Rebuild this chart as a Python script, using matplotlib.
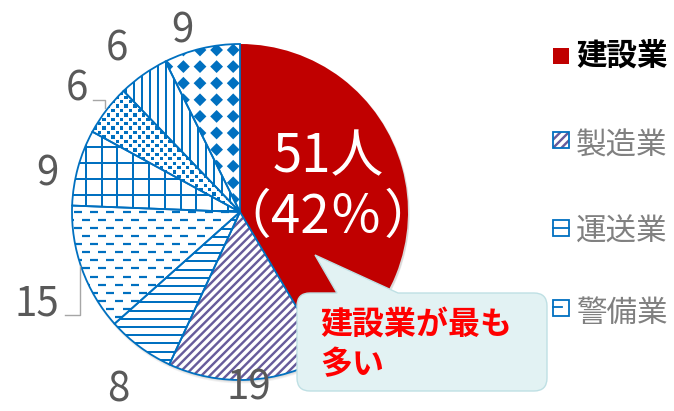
import numpy as np
import matplotlib
matplotlib.use('Agg')
import matplotlib.pyplot as plt
from matplotlib.patches import Wedge, Rectangle, PathPatch, Circle
from matplotlib.path import Path
from matplotlib.collections import LineCollection, PolyCollection

plt.rcParams['font.family'] = ['Noto Sans CJK JP', 'DejaVu Sans']

# ---------------- data ----------------
categories = ['建設業', '製造業', '運送業', '警備業', '業種5', '業種6', '業種7', '業種8']
values = [51, 19, 8, 15, 9, 6, 6, 9]
legend_labels = ['建設業', '製造業', '運送業', '警備業']
main_count_text = '51人'
main_pct_value = 42
callout_text = '建設業が最も\n多い'

# ---------------- style ----------------
W, H = 674, 411
RED = '#C00000'
BLUE = '#0070C0'
PURPLE = '#675C9B'
LABEL_GRAY = '#595959'
LEG_GRAY = '#808080'


def Y(y):
    return H - y


fig = plt.figure(figsize=(W / 100, H / 100), dpi=100)
ax = fig.add_axes([0, 0, 1, 1])

cx, cy, R = 240, Y(212), 168

# soft shadow
for k, a in enumerate([0.05, 0.05, 0.05]):
    ax.add_patch(Circle((cx + 1, cy - 1 - k), R + 0.5, fc='black', ec='none', alpha=a, zorder=0.5))

face_colors = [RED] + ['white'] * (len(values) - 1)
wedges, _ = ax.pie(values, startangle=90, counterclock=False, center=(cx, cy), radius=R,
                   colors=face_colors, wedgeprops=dict(linewidth=0))
ax.set_xlim(0, W)
ax.set_ylim(0, H)
ax.set_aspect('equal')
ax.axis('off')
for w in wedges:
    w.set_zorder(1)

PX = 0.72  # points per pixel at 100 dpi


def add_clipped_lines(segs, color, lw_px, wedge):
    lc = LineCollection(segs, colors=color, linewidths=lw_px * PX, capstyle='butt', zorder=2)
    ax.add_collection(lc)
    lc.set_clip_path(wedge)


# 製造業: purple diagonal stripes
segs = []
for c in np.arange(-440, 440, 8.3):
    segs.append([(40, 40 + c), (460, 460 + c)])
add_clipped_lines(segs, PURPLE, 2.4, wedges[1])

# 運送業: horizontal lines
segs = [[(40, yy), (460, yy)] for yy in np.arange(2, 410, 8.2)]
add_clipped_lines(segs, BLUE, 2.0, wedges[2])

# 警備業: dashed horizontal pattern
segs = []
for k in range(-30, 30):
    yy = 211.7 + 8.1 * k
    x_start = 90 - 8 * (k % 2)
    for j in range(-10, 25):
        xx = x_start + 16.4 * j
        segs.append([(xx, Y(yy)), (xx + 8, Y(yy))])
add_clipped_lines(segs, BLUE, 2.2, wedges[3])

# grid (wedge 4)
segs = [[(40, yy), (460, yy)] for yy in np.arange(Y(212) + 1, 410, 15.9)]
segs += [[(xx, 0), (xx, 411)] for xx in np.arange(70, 260, 15.8)]
add_clipped_lines(segs, BLUE, 2.0, wedges[4])

# small square dots (wedge 5)
sq = []
for k in range(0, 80):
    yy = 40 + 4.4 * k
    off = 4.4 * (k % 2)
    for j in range(0, 30):
        xx = 60 + off + 8.8 * j
        sq.append([(xx - 1.7, Y(yy - 1.7)), (xx + 1.7, Y(yy - 1.7)), (xx + 1.7, Y(yy + 1.7)), (xx - 1.7, Y(yy + 1.7))])
pc = PolyCollection(sq, facecolors=BLUE, edgecolors='none', zorder=2)
ax.add_collection(pc)
pc.set_clip_path(wedges[5])

# vertical lines (wedge 6)
segs = [[(xx, 0), (xx, 411)] for xx in np.arange(70, 260, 8.0)]
add_clipped_lines(segs, BLUE, 2.0, wedges[6])

# diamonds (wedge 7)
dm = []
d = 6.4
for k in range(-2, 20):
    yy = 50 + 16.6 * k
    for j in range(-8, 6):
        xx = 200 + 16.6 * j
        dm.append([(xx, Y(yy - d)), (xx + d, Y(yy)), (xx, Y(yy + d)), (xx - d, Y(yy))])
pd_ = PolyCollection(dm, facecolors=BLUE, edgecolors='none', zorder=2)
ax.add_collection(pd_)
pd_.set_clip_path(wedges[7])

# outlines
for w in wedges[1:]:
    ax.add_patch(Wedge(w.center, w.r, w.theta1, w.theta2, fill=False, ec=BLUE, lw=1.3, zorder=3))

# ---------------- value labels ----------------
label_pos = [(249, 400), (118, 402), (37, 315), (47, 185), (77, 100), (117, 60), (182, 42)]
for v, (lx, ly) in zip(values[1:], label_pos):
    ax.text(lx, Y(ly), str(v), ha='center', va='baseline', fontsize=29, color=LABEL_GRAY, zorder=5)

# leader lines
ax.plot([93, 105, 105], [Y(100), Y(100), Y(108)], color='#A6A6A6', lw=1, zorder=4)
ax.plot([65, 80, 80], [Y(315), Y(315), Y(266)], color='#A6A6A6', lw=1, zorder=4)

# main label
ax.text(328, Y(172), main_count_text, ha='center', va='baseline', fontsize=38, color='white', zorder=5)
ax.text(271, Y(233), f'{main_pct_value}％', ha='left', va='baseline', fontsize=38, color='white', zorder=5)
ax.text(271, Y(233), '（', ha='right', va='baseline', fontsize=38, color='white', zorder=5)
ax.text(384, Y(233), '）', ha='left', va='baseline', fontsize=38, color='white', zorder=5)

# ---------------- callout ----------------
x0, x1, y0, y1, r = 297, 547, 293, 391, 13
tx, ty, xa, xb = 315, 255, 337, 398
pts = [
    ((x0 + r, y0), Path.MOVETO), ((xa, y0), Path.LINETO), ((tx, ty), Path.LINETO), ((xb, y0), Path.LINETO),
    ((x1 - r, y0), Path.LINETO), ((x1, y0), Path.CURVE3), ((x1, y0 + r), Path.CURVE3),
    ((x1, y1 - r), Path.LINETO), ((x1, y1), Path.CURVE3), ((x1 - r, y1), Path.CURVE3),
    ((x0 + r, y1), Path.LINETO), ((x0, y1), Path.CURVE3), ((x0, y1 - r), Path.CURVE3),
    ((x0, y0 + r), Path.LINETO), ((x0, y0), Path.CURVE3), ((x0 + r, y0), Path.CURVE3),
    ((x0 + r, y0), Path.CLOSEPOLY),
]
path = Path([(p[0], Y(p[1])) for p, _ in pts], [c for _, c in pts])
ax.add_patch(PathPatch(path, fc='#E2F2F3', ec='#BFE0E4', lw=1, zorder=6))
lines = callout_text.split('\n')
ax.text(320, Y(334), lines[0], ha='left', va='baseline', fontsize=23, fontweight='bold', color='#FF0000', zorder=7)
ax.text(320, Y(374), lines[1], ha='left', va='baseline', fontsize=23, fontweight='bold', color='#FF0000', zorder=7)

# ---------------- legend ----------------
icon_cy = [56, 140, 228, 308]
text_base = [65, 155, 241, 322]
s = 16
ix = 553
# 1: red square
ax.add_patch(Rectangle((ix, Y(icon_cy[0] + s / 2)), s, s, fc=RED, ec='none', zorder=5))
# 2: purple stripes
r2 = Rectangle((ix, Y(icon_cy[1] + s / 2)), s, s, fc='white', ec='none', zorder=5)
ax.add_patch(r2)
segs = [[(ix + a, Y(icon_cy[1] + 8) + a + o) for a in (-20, 40)] for o in (-8.3, 0, 8.3)]
lc2 = LineCollection(segs, colors=PURPLE, linewidths=2.4 * PX, zorder=5.5)
ax.add_collection(lc2)
lc2.set_clip_path(r2)
ax.add_patch(Rectangle((ix, Y(icon_cy[1] + s / 2)), s, s, fill=False, ec=BLUE, lw=1.3, zorder=6))
# 3: horizontal line
ax.add_patch(Rectangle((ix, Y(icon_cy[2] + s / 2)), s, s, fc='white', ec=BLUE, lw=1.3, zorder=5))
ax.plot([ix, ix + s], [Y(icon_cy[2]), Y(icon_cy[2])], color=BLUE, lw=1.3, zorder=6)
# 4: dash
ax.add_patch(Rectangle((ix, Y(icon_cy[3] + s / 2)), s, s, fc='white', ec=BLUE, lw=1.3, zorder=5))
ax.plot([ix, ix + 9], [Y(icon_cy[3] - 1), Y(icon_cy[3] - 1)], color=BLUE, lw=1.3, zorder=6)

for i, lab in enumerate(legend_labels):
    ax.text(576, Y(text_base[i]), lab, ha='left', va='baseline', fontsize=22,
            color='black' if i == 0 else LEG_GRAY, fontweight='bold' if i == 0 else 'normal', zorder=5)

fig.savefig('out.png', dpi=100)
